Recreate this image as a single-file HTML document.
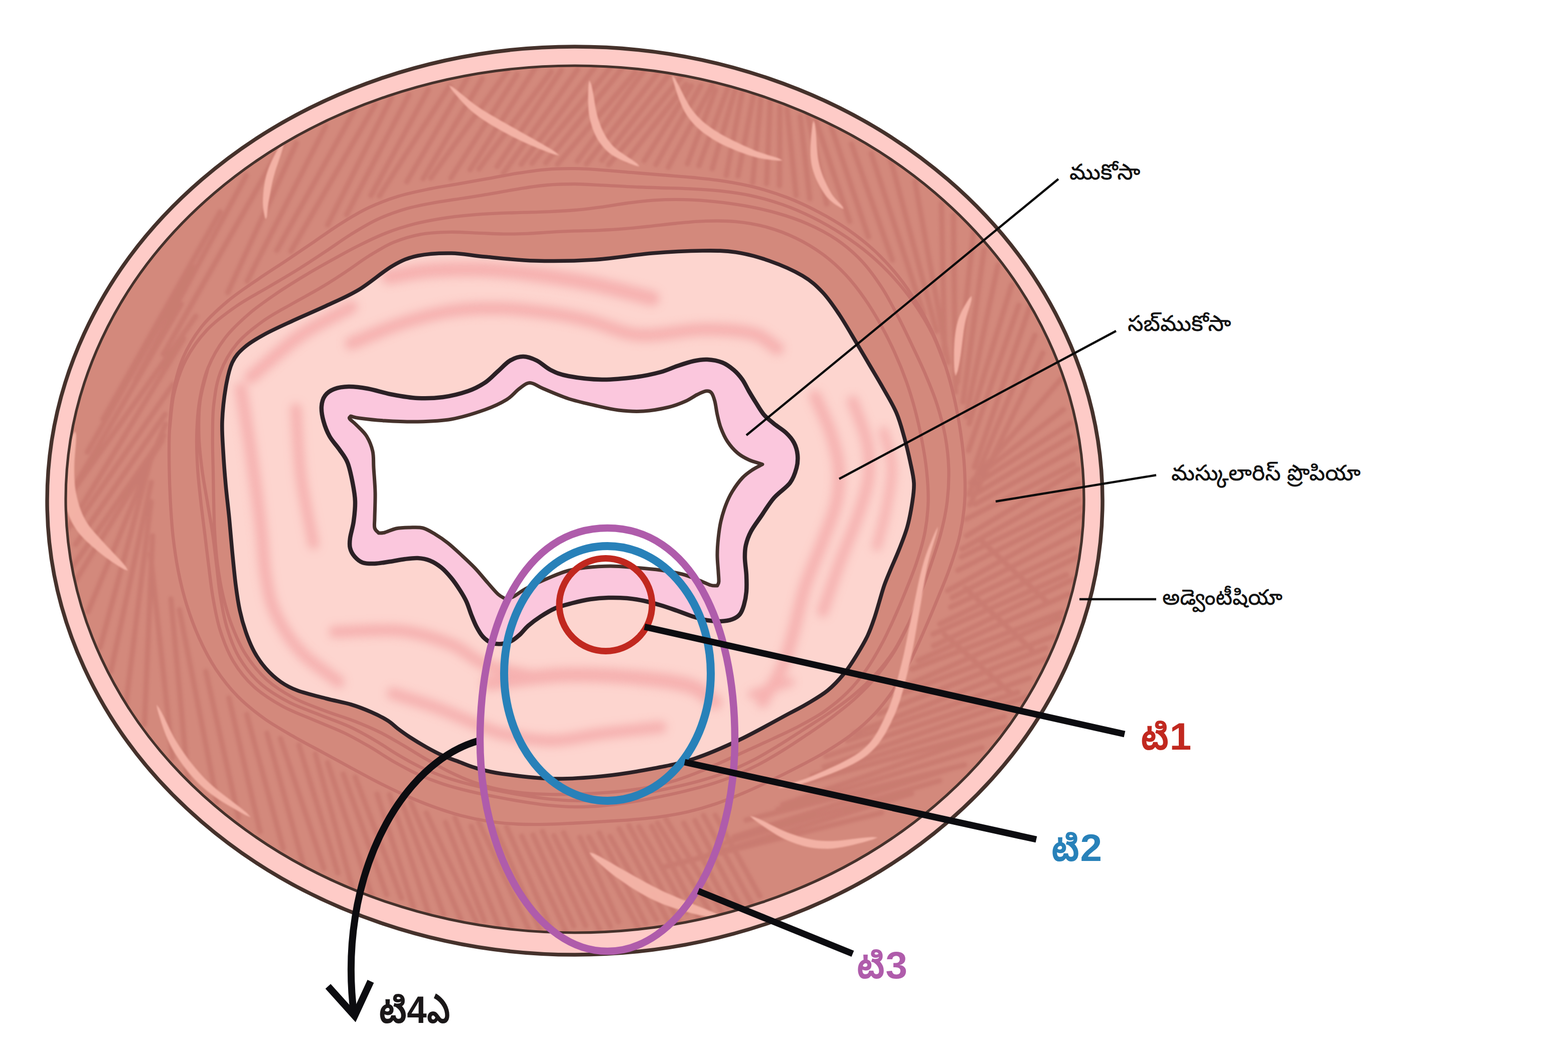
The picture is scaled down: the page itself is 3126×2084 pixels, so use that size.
<!DOCTYPE html>
<html lang="te"><head><meta charset="utf-8"><title>T stages</title>
<style>html,body{margin:0;padding:0;background:#fff}body{width:3126px;height:2084px;overflow:hidden}svg{display:block}</style></head>
<body>
<svg xmlns="http://www.w3.org/2000/svg" width="3126" height="2084" viewBox="0 0 3126 2084">
<defs>
<filter id="b1" x="-20%" y="-20%" width="140%" height="140%"><feGaussianBlur stdDeviation="9"/></filter>
<filter id="b2" x="-5%" y="-5%" width="110%" height="110%"><feGaussianBlur stdDeviation="2.5"/></filter>
<filter id="b3" x="-5%" y="-5%" width="110%" height="110%"><feGaussianBlur stdDeviation="1.5"/></filter>
<clipPath id="cmus"><ellipse cx="1146" cy="995.5" rx="1015" ry="864.5"/></clipPath>
<clipPath id="csub"><path d="M445 900C443.8 878.8 442.2 861.2 443 840C443.8 818.8 446.7 792.5 450 773C453.3 753.5 456.8 736.3 463 723C469.2 709.7 476.3 702.3 487 693C497.7 683.7 511 675.8 527 667C543 658.2 562.5 649.5 583 640C603.5 630.5 628 620.3 650 610C672 599.7 692.8 591.3 715 578C737.2 564.7 763.3 541.3 783 530C802.7 518.7 813.5 514.2 833 510C852.5 505.8 877.7 504.7 900 505C922.3 505.3 939.2 509.5 967 512C994.8 514.5 1030.8 519 1067 520C1103.2 521 1145.2 520.5 1184 518C1222.8 515.5 1264 508 1300 505C1336 502 1372.2 500.3 1400 500C1427.8 499.7 1444.8 499.7 1467 503C1489.2 506.3 1510.8 512.2 1533 520C1555.2 527.8 1582.2 539.5 1600 550C1617.8 560.5 1627.8 570.2 1640 583C1652.2 595.8 1661.8 610.3 1673 627C1684.2 643.7 1697 666.3 1707 683C1717 699.7 1724.2 712 1733 727C1741.8 742 1751 757 1760 773C1769 789 1779.8 806.3 1787 823C1794.2 839.7 1798.3 856.3 1803 873C1807.7 889.7 1811.8 908 1815 923C1818.2 938 1821.3 950.2 1822 963C1822.7 975.8 1821.2 985.5 1819 1000C1816.8 1014.5 1813.5 1033.8 1809 1050C1804.5 1066.2 1797.7 1082.5 1792 1097C1786.3 1111.5 1779.8 1125.3 1775 1137C1770.2 1148.7 1766.7 1156.5 1763 1167C1759.3 1177.5 1756.3 1189 1753 1200C1749.7 1211 1746.8 1221.8 1743 1233C1739.2 1244.2 1735.5 1255.3 1730 1267C1724.5 1278.7 1717.8 1290.3 1710 1303C1702.2 1315.7 1693 1330.7 1683 1343C1673 1355.3 1662.2 1367 1650 1377C1637.8 1387 1622.8 1395.3 1610 1403C1597.2 1410.7 1595.5 1411 1573 1423C1550.5 1435 1506.5 1460 1475 1475C1443.5 1490 1413.2 1503.3 1384 1513C1354.8 1522.7 1330.7 1527.2 1300 1533C1269.3 1538.8 1233.3 1544.7 1200 1548C1166.7 1551.3 1133.3 1553.8 1100 1553C1066.7 1552.2 1025 1546.5 1000 1543C975 1539.5 963.8 1535.8 950 1532C936.2 1528.2 928.2 1524.2 917 1520C905.8 1515.8 894.2 1512 883 1507C871.8 1502 861 1496.2 850 1490C839 1483.8 826.5 1476.2 817 1470C807.5 1463.8 800.3 1458.5 793 1453C785.7 1447.5 781.8 1442.5 773 1437C764.2 1431.5 752.2 1425.3 740 1420C727.8 1414.7 715 1409.5 700 1405C685 1400.5 667.8 1397.7 650 1393C632.2 1388.3 608 1382.5 593 1377C578 1371.5 570.5 1367.3 560 1360C549.5 1352.7 538.8 1343 530 1333C521.2 1323 513.7 1312.2 507 1300C500.3 1287.8 494.8 1273.8 490 1260C485.2 1246.2 481.3 1232.5 478 1217C474.7 1201.5 472.5 1186.5 470 1167C467.5 1147.5 465.2 1122.3 463 1100C460.8 1077.7 459.2 1055.2 457 1033C454.8 1010.8 452 989.2 450 967C448 944.8 446.2 921.2 445 900Z"/></clipPath>
</defs>
<rect width="3126" height="2084" fill="#fff"/>
<ellipse cx="1146" cy="998.5" rx="1052" ry="905.5" fill="#fecbc7" stroke="#45312b" stroke-width="7.5"/>
<ellipse cx="1146" cy="995.5" rx="1015" ry="864.5" fill="#d3897c"/>
<g clip-path="url(#cmus)">
<path d="M326.6 868.4L144.1 1131.3M329.3 826.1L150.7 1085.6M344.4 766.9L150.7 1047.9M366.1 675.2L136.5 1052.6M390.2 630.7L136.2 992.1M361.1 606.5L140.3 984.7M383.7 531.4L174.1 901.8M439 422.6L205.6 836.3M491 349.7L270.7 758.1M564.4 284.8L325.7 706.5M590.8 285.5L454.2 583.3M649.5 251L492.7 560.9M707.4 218.6L551.8 499.2M748 208.1L580 501.2M780.4 194.5L653 448.6M815.4 188.8L690.9 428.2M853.9 178.6L739.6 389.7M896.3 171.2L756.3 390.7M933.7 152.2L811 362.4M961.5 157L843.4 356.4M1013.1 139.4L858.7 355.3M1030.9 148.2L898.8 355.3M1069.7 131.2L937.1 338.3M1098.8 142.7L954.7 337M1119 140L990.9 332.1M1151.8 138.3L1003.1 346M1188.2 130.7L1039 327.8M1217.4 134L1060.5 325.7M1241.1 135.6L1088 325M1266.7 143.9L1111.3 327.9M1286.6 137.5L1150.8 321.5M1312.9 143.2L1169.2 327M1331.7 151.3L1199.9 319.7M1359 152.5L1213.5 328.6M1367.8 168L1250.2 319.1M1378.3 171.2L1284.1 320.6M1397.1 170.9L1307.5 328.5M1420.3 169.6L1332.1 333.7M1426.7 178.9L1370.2 326.9M1452.5 171.8L1393.3 330.6M1466 178L1419.9 336.5M1479.6 184.6L1447.9 349.8M1502.6 188L1471.3 351M1517.4 192.6L1500.4 364.8M1535.7 197.9L1528.2 366.2M1554.7 212.8L1554 370.3M1569.1 216.8L1587.1 389.6M1595.3 231.9L1614.5 396.2M1609.7 225.6L1648.2 406.6M1625.5 237.8L1693.9 441.3M1657 252.7L1731.4 472.4M1697.5 287.2L1779 518.5M1736.9 306.1L1841.3 625.9M1775.2 316.2L1867.1 660.9M1824 362L1890.1 723.1M1876.8 405.9L1883.4 706.3M1900.8 429.2L1904.9 781.8M1941.6 456.1L1908.3 763.3M1961.7 499.3L1919.6 801.9M1989.5 528.8L1925.2 831.8M2017 567.9L1932.1 845M2031.1 608.8L1930.7 898.7M2052.9 612.6L1942.4 931.9M2063.3 668.7L1931.3 986.2M2079 703.8L1933.4 1007M2114.9 756.2L1935.2 963.4M2120.2 816.7L1940.7 956.2M2134.1 844.3L1937.4 970.2M2135.6 870.9L1938 989.1M2147.1 893.2L1943.4 1005.6M2140.4 925.5L1926.2 1035.2M2148.9 936.3L1926.5 1068.5M2151.8 963.8L1917.7 1094.6M2149.9 996.7L1916.6 1110.6M2158.9 1011.2L1909.4 1137.6M2158.9 1027.7L1889.2 1177.9M2153.1 1060.7L1898.1 1191.5M2142 1094.5L1895.1 1210.8M2150 1109.7L1873.4 1244.5M2126.1 1146.4L1860.3 1264.5M2139.8 1154.9L1861.4 1288.1M2131 1184.4L1830.4 1317.4M2116.4 1220.9L1818.2 1334.5M2114.2 1232.2L1814.9 1363.6M2098.7 1269.3L1780.8 1389.3M2084.8 1292.4L1751.3 1423.3M2088.2 1312.6L1702.6 1462.5M2052.7 1352.3L1689 1477.6M2029.3 1380.6L1646 1508.4M2048.6 1389.4L1643.2 1529.2M2002.4 1428.9L1619.4 1546.9M2009.6 1448.9L1604.6 1560.1M1989.1 1457.1L1560.1 1605M1958 1491.2L1550.4 1614.5M1923.1 1525.4L1487.4 1635.7M1896.9 1532.2L1463.3 1669M1873.1 1556.7L1444.7 1681.5M1817.3 1582.4L1388.7 1712.3M1757.6 1620.6L1320.8 1729.7M1426 1625.7L1514.9 1787.1M1402.5 1626.2L1500.4 1805.6M1385.5 1636.6L1477.4 1810.4M1363.2 1641.2L1452 1808.5M1327.3 1632.7L1440.5 1821M1310.8 1641.3L1413.4 1814.7M1298.8 1647.8L1393.6 1831.1M1273.6 1648.4L1369.1 1819.3M1253.8 1646.5L1355.1 1841.3M1234 1652.6L1331.4 1835.3M1216 1668L1309.3 1834.2M1194.4 1660.9L1287.4 1842.2M1174 1669.3L1274.3 1852.7M1156.2 1669.9L1233.2 1838.2M1123.5 1660.6L1216.8 1847.5M1104.3 1666.5L1195.4 1853.8M1081.3 1658.2L1167.9 1846.6M1062.5 1665.2L1143.9 1846.9M1040 1667.2L1129.1 1859M1009.7 1648.8L1098.9 1853.3M988.3 1653.6L1078.3 1858.2M954.1 1638.8L1055 1854.7M939.3 1647.6L1021 1851.4M907.2 1631.1L995.7 1849.5M888.1 1639.8L965.6 1836.1M849.9 1620.9L950.2 1839.1M818.7 1599.1L918.7 1833.4M799.9 1597L884.8 1824.4M776.6 1584.8L854.5 1820.6M751.7 1583.7L824.3 1808.8M708.1 1549.8L800.5 1791.3M684.4 1544L770.9 1784.2M653 1520.7L742.9 1792.1M628.7 1503.8L703.4 1773.1M595.9 1485.6L673.7 1741M559.1 1472.6L645.6 1731.7M532.2 1462.1L605.6 1727.2M491.9 1425L564.5 1692.1M456.3 1391.9L518.4 1658.4M410.3 1339.2L475.6 1630.1M357.6 1216L432.8 1599.1M340.6 1194.4L375.4 1563.3M299.8 1104.5L344 1511.3M304.2 1068.4L288 1444.8M301.1 1000.8L251 1404.9M301.5 961.9L221.1 1338.7M300.9 914.5L199.6 1291.3M329.9 845.9L175.5 1220M323.4 878L151.2 1157.1M1955.5 1077.3L2087.2 1200M1924.6 1173.2L2056.8 1295.3M1882.7 1265.4L2017.7 1384.4" fill="none" stroke="#c4736b" stroke-width="10.5" stroke-linecap="round" opacity="0.6" filter="url(#b2)"/>
<path d="M426 1000C425.5 979 425.2 958.1 424.9 936.9C424.5 915.7 423.6 894.3 423.8 872.7C424.1 851 423.5 828.7 426.1 807.1C428.7 785.5 431.6 763 439.3 742.8C446.9 722.6 458 702.8 472.1 685.8C486.2 668.8 505.4 654.1 523.8 640.8C542.2 627.4 563.6 616.7 582.7 605.6C601.9 594.5 621 584.8 638.6 574.3C656.3 563.8 672.5 553.3 688.6 542.6C704.8 532 719.4 520.4 735.3 510.6C751.3 500.7 767.1 490.6 784.3 483.4C801.5 476.2 819.9 470.8 838.5 467.3C857 463.9 876.7 463.2 895.5 462.8C914.3 462.3 933.2 463.9 951.1 464.6C969.1 465.2 986.3 466.4 1003.1 466.6C1019.9 466.8 1035.8 466.4 1051.8 465.8C1067.8 465.1 1083.3 463.7 1099 462.9C1114.7 462 1130.3 461.3 1146 460.7C1161.7 460.1 1177.3 460 1193.3 459.3C1209.3 458.5 1225.2 457.7 1241.8 456.4C1258.5 455.2 1275.3 453.4 1293 451.5C1310.6 449.7 1328.9 447.3 1347.8 445.5C1366.8 443.7 1386.7 441.4 1406.7 440.9C1426.8 440.3 1447.7 440 1468.1 442.1C1488.5 444.1 1509.2 447.6 1529 453.1C1548.7 458.5 1568.2 465.9 1586.7 474.8C1605.1 483.7 1623.1 494.4 1639.5 506.5C1656 518.6 1671.4 532.5 1685.4 547.4C1699.5 562.2 1712 578.7 1723.7 595.5C1735.5 612.2 1746 630 1756 647.8C1765.9 665.7 1775.1 684.1 1783.5 702.7C1792 721.3 1799.7 740.3 1806.5 759.6C1813.4 778.8 1819.3 798.5 1824.5 818.2C1829.7 837.9 1834.1 857.9 1837.9 878C1841.7 898.1 1845.2 918.3 1847.3 938.6C1849.4 959 1851 979.6 1850.5 1000C1849.9 1020.4 1847.8 1041 1844 1061.1C1840.2 1081.1 1834.1 1100.9 1827.8 1120.2C1821.5 1139.5 1813.7 1158.3 1806.3 1176.9C1798.8 1195.5 1791.2 1213.8 1783 1231.9C1774.9 1249.9 1766.8 1267.9 1757.5 1285.1C1748.2 1302.4 1738.4 1319.6 1727.1 1335.5C1715.8 1351.4 1703.4 1366.9 1689.6 1380.6C1675.8 1394.4 1660.2 1406.9 1644.3 1418.1C1628.3 1429.3 1610.7 1438.7 1593.7 1447.7C1576.8 1456.8 1559.3 1464.6 1542.4 1472.5C1525.6 1480.4 1509 1487.7 1492.7 1495.2C1476.4 1502.7 1460.6 1510.1 1444.6 1517.3C1428.7 1524.4 1413 1531.7 1397 1538.2C1380.9 1544.6 1364.7 1550.8 1348.3 1555.9C1331.9 1561 1315.2 1565.3 1298.4 1568.8C1281.6 1572.3 1264.6 1574.8 1247.7 1576.8C1230.8 1578.9 1213.8 1580.2 1196.9 1581.3C1179.9 1582.5 1163 1583.2 1146 1583.7C1129 1584.2 1112 1584.6 1094.9 1584.2C1077.8 1583.9 1060.6 1583.2 1043.5 1581.5C1026.4 1579.7 1009.1 1577.4 992.3 1573.7C975.4 1570 958.7 1565.2 942.4 1559.3C926.2 1553.5 910.3 1546.2 894.8 1538.6C879.3 1531 864.4 1522.4 849.4 1513.8C834.4 1505.2 820 1495.8 805 1487C789.9 1478.2 775.3 1469.2 759.1 1461.1C742.8 1453 726 1445.8 707.5 1438.5C689 1431.3 668.5 1425.4 648.2 1417.7C628 1409.9 605.6 1402.5 586.1 1392C566.6 1381.6 547.1 1369.4 531.1 1355C515.2 1340.6 501.7 1323.5 490.2 1305.8C478.8 1288.1 470.3 1268.3 462.7 1248.7C455.1 1229.1 449.5 1208.4 444.6 1187.9C439.8 1167.4 436.4 1146.5 433.6 1125.6C430.9 1104.8 429.3 1083.7 428.1 1062.8C426.8 1041.9 426.6 1021 426 1000ZM400.3 1000C397.9 978.3 395.3 956.4 394 934.2C392.6 912.1 391.6 889.5 392.2 867.1C392.8 844.6 394 821.7 397.8 799.5C401.5 777.3 406.3 754.6 414.7 733.8C423.1 713 434.5 692.7 448.2 674.6C461.9 656.5 479.6 640.3 497 625.3C514.4 610.3 533.9 597.2 552.5 584.4C571.1 571.7 590 560.2 608.5 549C627 537.8 645.4 527.5 663.5 517.5C681.6 507.4 699.2 497.7 717.1 488.8C734.9 479.9 752.6 471.3 770.9 464.2C789.1 457.2 807.8 451.3 826.4 446.5C845.1 441.7 864.1 438.3 882.7 435.3C901.3 432.4 919.9 430.5 938.1 428.9C956.3 427.2 974.3 426.2 992 425.4C1009.7 424.5 1027.2 424.3 1044.4 423.7C1061.6 423.2 1078.5 422.8 1095.4 422.1C1112.4 421.3 1129 420.5 1146 419C1163 417.6 1179.9 415.4 1197.3 413.1C1214.8 410.8 1232.6 407.3 1250.9 405C1269.2 402.7 1288 400.2 1307 399.1C1326 397.9 1345.4 397.6 1365.1 398.1C1384.7 398.6 1404.6 400 1424.8 402.1C1445 404.2 1465.6 406.9 1486.3 410.7C1506.9 414.5 1528 418.9 1548.7 424.9C1569.4 430.8 1590.5 437.8 1610.4 446.6C1630.3 455.4 1650.2 465.6 1668.1 477.9C1686 490.2 1702.8 504.6 1717.7 520.3C1732.5 536 1745.2 554 1757.1 572.1C1769 590.2 1778.9 609.6 1789 628.8C1799.1 647.9 1808.3 667.4 1817.5 686.9C1826.8 706.3 1836.2 725.8 1844.6 745.7C1853.1 765.7 1861.5 785.8 1868.1 806.5C1874.7 827.2 1880.5 848.4 1884.4 869.8C1888.3 891.2 1890.7 913.1 1891.4 934.8C1892 956.5 1891 978.5 1888.4 1000C1885.8 1021.5 1881 1043 1875.6 1063.8C1870.3 1084.7 1863 1105.1 1856.2 1125.2C1849.4 1145.3 1842.2 1165.1 1834.9 1184.6C1827.5 1204.1 1820.5 1223.6 1812 1242.4C1803.5 1261.2 1794.6 1279.9 1784 1297.5C1773.3 1315 1761.3 1332 1748.3 1347.8C1735.3 1363.5 1720.8 1378.2 1705.8 1392C1690.9 1405.7 1674.6 1418.2 1658.7 1430.2C1642.8 1442.2 1626.3 1453.3 1610.2 1464.2C1594.1 1475.1 1578.2 1485.8 1562 1495.8C1545.8 1505.8 1529.7 1515.6 1513.1 1524.3C1496.5 1533 1479.5 1540.9 1462.3 1547.9C1445.1 1554.9 1427.5 1560.8 1410 1566.1C1392.4 1571.4 1374.6 1575.6 1357 1579.8C1339.4 1584 1321.9 1587.6 1304.4 1591C1286.8 1594.5 1269.4 1597.8 1251.9 1600.5C1234.3 1603.2 1216.8 1605.7 1199.1 1607.1C1181.5 1608.5 1163.7 1609.3 1146 1609.1C1128.3 1608.8 1110.6 1607.5 1093 1605.8C1075.4 1604 1058 1601.2 1040.5 1598.4C1023 1595.6 1005.6 1592.4 988.2 1589C970.7 1585.6 953.1 1582.2 935.7 1577.9C918.2 1573.6 900.5 1569.1 883.3 1563.4C866 1557.7 848.8 1551.2 832.1 1543.7C815.5 1536.1 799.4 1527 783.4 1517.9C767.4 1508.7 752.4 1498.1 736 1488.6C719.6 1479.1 703.3 1469.7 685 1461C666.7 1452.2 646.6 1444.9 626.2 1436.2C605.8 1427.4 582.9 1419.4 562.9 1408.3C542.9 1397.2 522.5 1384.5 506.1 1369.4C489.7 1354.4 475.7 1336.5 464.5 1317.8C453.4 1299.1 445.6 1278.1 439 1257.3C432.4 1236.6 428.6 1214.7 424.8 1193.2C421 1171.8 418.8 1150.2 416.1 1128.7C413.3 1107.3 410.9 1086 408.3 1064.5C405.6 1043.1 402.7 1021.7 400.3 1000ZM339.7 1000C338.4 976.5 337.6 953 337.3 929.3C337 905.5 336.6 881.5 337.9 857.5C339.1 833.5 340.5 809 344.8 785.3C349.2 761.7 354.8 737.5 364.1 715.4C373.5 693.3 386.1 671.8 401.1 652.6C416 633.5 435.2 616.4 454 600.5C472.8 584.6 494.1 571 513.8 557.3C533.5 543.7 553.4 531.3 572.3 518.6C591.2 505.9 609.2 493.5 627.3 481.3C645.3 469 662.4 456.4 680.5 445.2C698.5 433.9 716.6 422.8 735.6 413.9C754.6 404.9 774.6 397.5 794.6 391.3C814.6 385.2 835.3 381.1 855.5 376.9C875.6 372.8 895.7 369.9 915.4 366.4C935.1 363 954.3 359.6 973.5 356.1C992.7 352.7 1011.5 348.7 1030.6 345.7C1049.7 342.7 1068.9 339.7 1088.1 338.1C1107.3 336.5 1126.7 336 1146 336.2C1165.3 336.3 1184.5 337.9 1203.8 339.3C1223.1 340.6 1242.2 342.6 1261.6 344.2C1281.1 345.8 1300.5 347.4 1320.4 349C1340.3 350.7 1360.6 352 1381.1 354C1401.7 356.1 1422.8 358 1443.8 361.4C1464.8 364.7 1486.3 368.6 1507.4 374.1C1528.4 379.6 1549.5 386.3 1570.1 394.3C1590.7 402.3 1611 411.8 1630.8 422.2C1650.7 432.6 1670.5 444 1689.1 456.9C1707.7 469.8 1726 483.9 1742.7 499.3C1759.4 514.7 1775.1 531.7 1789.4 549.5C1803.8 567.2 1816.9 586.2 1828.8 605.8C1840.7 625.3 1851.3 645.8 1860.8 666.7C1870.2 687.6 1878.2 709.2 1885.3 730.9C1892.3 752.7 1898.1 774.9 1903.1 797.1C1908.1 819.4 1912.1 841.9 1915.4 864.3C1918.6 886.8 1921.4 909.4 1922.7 932C1924 954.7 1924.8 977.5 1923.2 1000C1921.7 1022.5 1918.5 1045.2 1913.6 1067.2C1908.7 1089.1 1901.2 1110.8 1893.8 1131.9C1886.5 1153 1877.6 1173.4 1869.3 1193.8C1861 1214.2 1852.7 1234.2 1844 1254C1835.3 1273.9 1826.9 1293.8 1817.2 1313C1807.5 1332.2 1797.4 1351.4 1785.6 1369.3C1773.9 1387.2 1760.9 1404.7 1746.5 1420.5C1732 1436.2 1715.8 1450.8 1698.9 1464C1682.1 1477.2 1663.7 1488.6 1645.6 1499.6C1627.5 1510.6 1608.8 1520.2 1590.5 1529.8C1572.3 1539.3 1554.1 1548.3 1535.9 1556.9C1517.8 1565.6 1500 1574 1481.8 1581.7C1463.7 1589.3 1445.6 1596.8 1427.2 1603C1408.8 1609.2 1390.1 1614.6 1371.3 1619C1352.5 1623.3 1333.5 1626.5 1314.6 1629.1C1295.7 1631.7 1276.7 1633.3 1257.9 1634.8C1239.1 1636.4 1220.5 1637.3 1201.9 1638.4C1183.2 1639.5 1164.7 1640.6 1146 1641.5C1127.3 1642.4 1108.6 1643.6 1089.7 1643.9C1070.8 1644.2 1051.6 1644.4 1032.5 1643.5C1013.4 1642.5 994.1 1640.9 975 1638C956 1635.1 936.9 1631.1 918.1 1626.2C899.3 1621.2 880.7 1615 862.3 1608.3C843.9 1601.6 825.8 1594 807.7 1586C789.6 1577.9 771.8 1569.2 753.8 1560.1C735.9 1551 718.3 1541.2 700.1 1531.4C681.9 1521.6 663.7 1511.5 644.8 1501.2C625.9 1490.9 606.1 1480.8 586.5 1469.5C566.9 1458.2 546.1 1446.8 527.2 1433.3C508.4 1419.7 489.6 1404.9 473.4 1388.3C457.2 1371.7 442.8 1353.1 430 1333.9C417.3 1314.6 406.6 1293.7 397.1 1272.6C387.5 1251.5 379.5 1229.5 372.5 1207.3C365.6 1185.1 360 1162.3 355.5 1139.4C350.9 1116.5 347.7 1093.3 345 1070.1C342.4 1046.8 341 1023.5 339.7 1000ZM337.9 857.5C340.8 833.6 341.3 809.1 346.7 785.8C352.1 762.5 359.3 739 370.3 717.7C381.3 696.4 395.8 675.9 412.6 658C429.5 640.2 450.9 624.7 471.3 610.5C491.8 596.2 514.8 584.6 535.3 572.4C555.8 560.2 575.6 548.8 594.4 537.1C613.2 525.4 630.7 513.7 648.1 502.1C665.6 490.6 681.9 478.4 699.3 467.6C716.6 456.9 733.9 446.1 752.2 437.6C770.5 429.1 789.8 422.2 809.1 416.5C828.4 410.9 848.6 407.5 868 403.9C887.5 400.3 906.9 398 925.8 395C944.7 392 963.1 389.1 981.5 385.9C999.8 382.8 1017.8 379.1 1036 376.3C1054.2 373.5 1072.5 370.5 1090.8 369C1109.1 367.4 1127.6 367 1146 367C1164.4 367.1 1182.7 368.5 1201.2 369.4C1219.6 370.3 1237.9 371.6 1256.7 372.4C1275.4 373.3 1294.2 373.9 1313.6 374.5C1333 375.2 1352.7 375.4 1373 376.4C1393.2 377.4 1414 378.3 1434.8 380.6C1455.7 382.9 1477.1 385.7 1498 390.3C1519 394.9 1540 400.8 1560.5 408.1C1581 415.3 1601.2 424.2 1620.9 434C1640.6 443.9 1660.1 455 1678.8 467.2C1697.6 479.4 1716.1 492.6 1733.3 507.2C1750.6 521.7 1767 537.7 1782.3 554.5C1797.5 571.3 1811.8 589.4 1824.7 608.2C1837.6 627 1849.4 646.8 1859.5 667.3C1869.6 687.8 1876.7 709.7 1885.3 730.9M1812 1242.4C1802.3 1260.6 1794 1279.7 1782.8 1297C1771.6 1314.2 1758.6 1330.6 1744.8 1345.7C1730.9 1360.8 1715.4 1374.8 1699.8 1387.7C1684.1 1400.7 1667.1 1412.2 1650.7 1423.5C1634.3 1434.7 1617.5 1444.9 1601.3 1455.3C1585.1 1465.7 1569.6 1476.1 1553.6 1485.8C1537.7 1495.5 1522 1505.2 1505.7 1513.7C1489.4 1522.2 1472.8 1530 1455.9 1536.8C1439.1 1543.6 1421.8 1549.4 1404.6 1554.5C1387.4 1559.7 1370 1563.9 1352.7 1567.9C1335.5 1572 1318.3 1575.5 1301.1 1578.9C1283.9 1582.2 1266.9 1585.6 1249.7 1588.2C1232.5 1590.9 1215.3 1593.3 1198 1594.8C1180.7 1596.2 1163.3 1597 1146 1596.7C1128.7 1596.5 1111.3 1595.2 1094.1 1593.4C1076.9 1591.6 1059.8 1588.8 1042.7 1585.9C1025.6 1583.1 1008.6 1579.9 991.5 1576.4C974.5 1572.9 957.4 1569.4 940.3 1565.1C923.3 1560.8 906.1 1556.1 889.4 1550.4C872.6 1544.6 855.8 1538.1 839.7 1530.5C823.6 1522.9 808.1 1513.9 792.6 1504.7C777.1 1495.6 762.7 1485.1 746.7 1475.9C730.7 1466.6 714.9 1457.5 696.8 1449.2C678.7 1440.9 658.6 1434.2 638.3 1426C618.1 1417.7 595 1410.4 575 1399.8C555 1389.2 534.5 1377.1 518.2 1362.4C501.9 1347.8 488.1 1330.2 477.2 1311.9C466.2 1293.5 458.9 1272.8 452.6 1252.4C446.3 1232 442.9 1210.4 439.4 1189.3C435.9 1168.3 434.2 1147 431.6 1126C429 1104.9 426.9 1084.2 423.8 1063.2C420.7 1042.2 416.7 1021.4 413.2 1000C409.6 978.6 405.4 957 402.6 935C399.8 912.9 397.1 890.4 396.5 867.8C395.9 845.3 395.9 822.2 398.9 799.8C401.9 777.5 409.4 755.8 414.7 733.8" fill="none" stroke="#c5746d" stroke-width="6.3" stroke-linejoin="round"/>
<path d="M567 278L561.9 283.8L557.9 290.1L554.1 296.7L550.5 303.3L547 309.9L543.7 316.6L540.5 323.3L537.7 329.9L535.1 336.4L532.9 342.8L531 349.1L529.5 355.3L528.1 361.4L527.1 367.4L526.2 373.2L525.5 378.9L525 384.3L524.6 389.6L524.3 394.6L524.1 399.4L524 404L524.2 408.3L524.4 412.4L524.8 416.2L525.3 419.8L525.9 423.2L526.6 426.6L527.4 430L528.2 433.4L530 437L530 437L531.7 433.3L532.3 429.8L532.8 426.3L533.1 422.9L533.4 419.5L533.7 416L534.1 412.5L534.6 408.8L535.1 404.8L535.9 400.6L536.7 396L537.6 391.1L538.5 386.1L539.4 380.9L540.4 375.5L541.5 370.1L542.7 364.5L544 358.8L545.5 353L547.1 347.2L548.9 341.1L550.9 334.8L553.2 328.3L555.5 321.5L557.9 314.6L560.3 307.5L562.6 300.3L564.7 293L566.6 285.7L567 278ZM895 170L898.9 176.6L903.4 182.4L908 188L912.7 193.6L917.6 199.1L922.6 204.6L927.9 210L933.4 215.4L939.3 220.7L945.6 226L952.2 231L959.1 236L966.2 240.8L973.5 245.5L981 250.1L988.7 254.6L996.6 259.1L1004.6 263.5L1012.8 267.8L1021.1 272.2L1029.7 276.5L1038.5 280.8L1047.6 285L1056.9 289.1L1066.3 293.1L1075.8 297L1085.4 300.8L1095.1 304.5L1104.8 307.9L1115 310L1115 310L1107.1 303.1L1098.5 297.5L1089.6 292.2L1080.7 287L1071.8 281.9L1062.9 276.9L1054.2 272L1045.5 267.2L1037.1 262.5L1028.9 257.8L1020.8 253.2L1012.8 248.7L1004.9 244.2L997.2 239.9L989.6 235.5L982.2 231.3L974.9 227L967.8 222.7L961 218.4L954.4 214L948.1 209.7L942 205.2L936.2 200.7L930.5 196.1L924.9 191.5L919.3 186.9L913.7 182.3L907.9 177.7L901.9 173.4L895 170ZM1175 160L1173.3 168.4L1172.8 176.7L1172.6 185.2L1172.5 193.7L1172.5 202.1L1172.8 210.5L1173.3 218.8L1174.2 226.9L1175.5 234.8L1177.2 242.2L1179.2 249.2L1181.3 255.8L1183.8 262.2L1186.4 268.3L1189.4 274.2L1192.7 279.9L1196.3 285.3L1200.3 290.6L1204.6 295.6L1209.5 300.5L1214.9 305.2L1220.8 309.4L1227.1 313.2L1233.6 316.6L1240.3 319.8L1247.1 322.7L1254 325.4L1260.8 328L1267.7 330.5L1275 332L1275 332L1270.1 326.3L1264.2 321.7L1258.1 317.5L1252 313.5L1245.9 309.5L1240.1 305.6L1234.5 301.7L1229.3 297.7L1224.7 293.7L1220.5 289.5L1216.8 285.1L1213.3 280.5L1210 275.9L1207.1 271.1L1204.4 266.2L1201.8 261.1L1199.4 255.7L1197.1 250L1194.9 244L1192.8 237.8L1190.9 231.3L1189.2 224.3L1187.7 216.9L1186.3 209.1L1185 201L1183.6 192.7L1182.2 184.4L1180.5 176.1L1178.5 167.8L1175 160ZM1340 150L1341.4 158.5L1343.7 166.7L1346.2 175L1348.8 183.3L1351.6 191.5L1354.5 199.6L1357.7 207.5L1361.1 215.1L1364.8 222.4L1369 229.2L1373.3 235.4L1377.7 241.2L1382.3 246.5L1387.1 251.5L1392.1 256.2L1397.3 260.7L1402.7 264.9L1408.3 269.1L1414.2 273.1L1420.5 277.2L1427.3 281.3L1434.6 285.4L1442.4 289.3L1450.4 293L1458.6 296.6L1466.8 300L1474.9 303.2L1482.9 306.1L1490.5 308.7L1497.8 311.1L1504.7 313.1L1511.3 314.8L1517.8 316.1L1524 317.2L1530 318.1L1535.9 318.8L1541.8 319.5L1547.7 320L1553.6 320.4L1560 320L1560 320L1554.5 316.8L1548.8 314.6L1543.2 312.8L1537.5 311.1L1531.9 309.4L1526.2 307.6L1520.5 305.8L1514.6 303.8L1508.5 301.5L1502.2 298.9L1495.5 296L1488.2 292.8L1480.7 289.4L1473 285.8L1465.2 282.1L1457.4 278.3L1449.9 274.5L1442.6 270.6L1435.8 266.7L1429.5 262.8L1423.6 259L1418 255.2L1412.7 251.4L1407.7 247.7L1402.9 243.8L1398.3 239.8L1393.9 235.5L1389.6 231L1385.3 226.1L1381 220.8L1376.9 215L1373 208.7L1369.1 201.9L1365.3 194.7L1361.5 187.3L1357.7 179.6L1353.8 171.9L1349.8 164.2L1345.5 156.7L1340 150ZM1622 240L1619.7 248.6L1618.6 257.4L1617.6 266.3L1616.8 275.2L1616.2 284.1L1615.8 292.9L1615.7 301.7L1615.9 310.2L1616.6 318.5L1617.7 326.4L1619.3 333.9L1621.3 341.2L1623.6 348.2L1626.2 354.9L1629.1 361.2L1632.1 367.3L1635.2 373L1638.5 378.4L1641.7 383.5L1644.9 388.2L1648.3 392.7L1651.9 396.6L1655.5 400.1L1659.2 403.1L1662.8 405.9L1666.5 408.4L1670.2 410.7L1673.8 413L1677.6 415.2L1682 417L1682 417L1680 412.6L1677.1 409.1L1674.2 405.8L1671.2 402.7L1668.3 399.6L1665.4 396.5L1662.7 393.2L1660 389.8L1657.5 386L1655.1 381.8L1652.5 377L1649.9 372L1647.4 366.7L1644.8 361.1L1642.3 355.4L1639.9 349.4L1637.7 343.2L1635.7 336.9L1633.8 330.3L1632.3 323.6L1631 316.6L1630 309L1629.3 301L1628.6 292.7L1628 284L1627.5 275.2L1626.8 266.3L1625.9 257.4L1624.7 248.6L1622 240ZM1937 590L1932.4 594.9L1929.1 599.9L1926 604.9L1923 610L1920 615.3L1917.1 620.8L1914.4 626.9L1911.8 633.4L1909.5 640.6L1907.4 648.5L1905.7 657.1L1904.3 666.4L1903.2 676.2L1902.5 686.4L1902 696.9L1901.8 707.6L1901.8 718.3L1902.1 729L1902.7 739.5L1905 750L1905 750L1909.2 740.1L1911.5 729.7L1913.4 719.2L1915.1 708.6L1916.5 698.1L1917.8 687.8L1919 677.9L1920.2 668.5L1921.3 659.6L1922.6 651.5L1923.9 644.2L1925.4 637.5L1927 631.3L1928.7 625.4L1930.5 619.7L1932.3 614.2L1934.1 608.5L1935.7 602.8L1937 596.7L1937 590ZM1870 1050L1866.3 1057L1863.1 1064L1860.1 1070.9L1857.2 1077.9L1854.3 1084.9L1851.4 1092.1L1848.6 1099.5L1845.8 1107.2L1843.2 1115.3L1840.6 1123.9L1838.1 1132.9L1835.7 1142.3L1833.4 1152.1L1831.1 1162.1L1828.9 1172.4L1826.8 1182.7L1824.7 1193.1L1822.5 1203.4L1820.4 1213.6L1818.3 1223.7L1816.2 1233.7L1814.2 1243.7L1812.2 1253.7L1810.2 1263.7L1808.3 1273.6L1806.3 1283.6L1804.2 1293.5L1802.1 1303.4L1799.8 1313.2L1797.4 1323.1L1794.8 1333.2L1792.2 1343.5L1789.6 1353.8L1786.9 1364.2L1784.2 1374.4L1781.3 1384.5L1778.2 1394.4L1775 1403.9L1771.5 1413L1767.8 1421.8L1764 1430.3L1760.1 1438.6L1756.2 1446.6L1752.2 1454.3L1748 1461.7L1743.5 1468.8L1738.5 1475.6L1733.2 1482.2L1727.2 1488.5L1720.6 1494.6L1713 1500.5L1704.3 1506.4L1694.8 1512.1L1684.6 1517.6L1674.1 1522.9L1663.3 1528L1652.6 1532.8L1642.3 1537.4L1632.4 1541.8L1623.3 1545.8L1615 1549.3L1607.1 1552.4L1599.6 1555.1L1592.3 1557.6L1585.2 1559.8L1578.1 1561.9L1571.2 1564L1564.1 1566.2L1557.1 1568.7L1550 1572L1550 1572L1557.7 1571.2L1565.1 1569.9L1572.3 1568.5L1579.5 1567.2L1586.7 1565.7L1594.1 1564.1L1601.7 1562.2L1609.7 1560L1618 1557.3L1626.7 1554.2L1636 1550.7L1646.1 1547L1656.8 1542.9L1667.9 1538.5L1679.1 1533.7L1690.2 1528.7L1701 1523.4L1711.3 1517.7L1720.8 1511.7L1729.4 1505.4L1737 1498.8L1743.9 1491.8L1750.1 1484.7L1755.7 1477.2L1760.8 1469.6L1765.5 1461.7L1769.9 1453.6L1774.1 1445.4L1778.1 1436.9L1782.2 1428.2L1786.2 1419L1789.9 1409.3L1793.4 1399.3L1796.6 1389.1L1799.6 1378.7L1802.4 1368.2L1805.1 1357.8L1807.7 1347.3L1810.2 1337L1812.6 1326.9L1815 1316.8L1817.2 1306.6L1819.3 1296.5L1821.2 1286.4L1823 1276.4L1824.7 1266.3L1826.5 1256.3L1828.2 1246.3L1829.9 1236.3L1831.7 1226.3L1833.5 1216.1L1835.3 1205.8L1837 1195.4L1838.7 1184.9L1840.4 1174.5L1842.2 1164.3L1843.9 1154.2L1845.7 1144.5L1847.5 1135.1L1849.4 1126.1L1851.4 1117.7L1853.5 1109.6L1855.7 1101.8L1857.9 1094.3L1860.1 1087L1862.3 1079.7L1864.6 1072.5L1866.7 1065.2L1868.7 1057.8L1870 1050ZM150 860L145.8 866.5L143.1 873.3L140.6 880.2L138.2 887.2L136 894.3L134 901.3L132.1 908.3L130.4 915.4L129 922.3L127.9 929.2L127 935.8L126.3 942.2L125.8 948.6L125.4 955L125.2 961.2L125.2 967.5L125.5 973.7L125.9 979.9L126.6 986.2L127.5 992.4L128.7 998.5L130 1004.6L131.6 1010.7L133.4 1016.8L135.4 1022.8L137.6 1028.7L140.1 1034.6L142.8 1040.4L145.8 1046L149.1 1051.6L152.7 1056.9L156.5 1062.1L160.5 1066.9L164.8 1071.6L169.1 1076L173.6 1080.4L178.3 1084.6L183 1088.9L187.9 1093.1L192.9 1097.4L198.2 1101.8L203.8 1106.3L209.6 1110.7L215.6 1115.1L221.8 1119.4L228.1 1123.6L234.4 1127.8L240.9 1131.8L247.4 1135.5L255 1138L255 1138L251.4 1130.9L246.7 1124.9L241.6 1119.2L236.5 1113.7L231.3 1108.2L226.2 1102.9L221.2 1097.6L216.3 1092.5L211.6 1087.5L207.1 1082.6L202.7 1077.8L198.4 1073.1L194.3 1068.5L190.3 1064.1L186.5 1059.8L182.9 1055.6L179.6 1051.4L176.4 1047.1L173.6 1042.8L170.9 1038.4L168.4 1033.8L166 1029.1L163.8 1024.2L161.8 1019.2L159.9 1014.1L158.1 1008.9L156.5 1003.7L155 998.3L153.7 993L152.5 987.6L151.4 982.3L150.5 977L149.8 971.6L149.2 966.2L148.8 960.6L148.5 955L148.2 949.2L148.1 943.2L148.1 937.1L148.1 930.8L148.3 924.5L148.6 917.9L149.1 911.1L149.6 904.1L150.2 897L150.8 889.7L151.4 882.4L151.7 875L151.7 867.6L150 860ZM312 1405L313.7 1414.4L316.2 1423.4L319 1432.3L321.8 1441.2L324.8 1450.1L327.9 1459L331.3 1467.8L335.1 1476.6L339.2 1485.2L343.8 1493.7L348.7 1502L353.8 1510.1L359.1 1518L364.6 1525.9L370.5 1533.7L376.6 1541.3L383.1 1548.8L390 1556.2L397.2 1563.5L404.8 1570.6L413 1577.6L421.7 1584.2L430.8 1590.7L440.2 1596.9L449.9 1602.9L459.7 1608.8L469.6 1614.5L479.5 1620.1L489.5 1625.6L500 1630L500 1630L492.3 1621.5L483.5 1614.2L474.5 1607.1L465.5 1600.2L456.4 1593.3L447.5 1586.5L438.8 1579.8L430.5 1573L422.6 1566.3L415.2 1559.4L408.2 1552.4L401.5 1545.4L395.1 1538.3L388.9 1531.1L383 1523.8L377.3 1516.5L371.8 1509.1L366.5 1501.5L361.2 1493.9L356.2 1486.3L351.4 1478.6L346.9 1470.7L342.6 1462.6L338.5 1454.4L334.5 1446.1L330.5 1437.7L326.5 1429.3L322.3 1420.9L317.7 1412.7L312 1405ZM1175 1700L1179.7 1707L1185.3 1712.7L1191.1 1718.2L1197 1723.5L1203 1728.8L1209 1733.9L1215.2 1739L1221.5 1744L1228 1748.9L1234.5 1753.6L1241.2 1758.2L1247.9 1762.8L1254.8 1767.4L1261.8 1771.9L1268.8 1776.2L1275.9 1780.5L1283.1 1784.6L1290.3 1788.5L1297.6 1792.3L1304.8 1795.8L1312.2 1799.1L1319.6 1802.2L1327 1805.1L1334.4 1807.8L1341.8 1810.3L1349.1 1812.6L1356.3 1814.8L1363.3 1816.9L1370.3 1818.8L1377 1820.7L1383.7 1822.4L1390.2 1824L1396.5 1825.4L1402.7 1826.6L1408.9 1827.7L1414.9 1828.7L1421 1829.6L1427.1 1830.3L1433.3 1830.8L1440 1830L1440 1830L1434.8 1825.7L1429.2 1822.8L1423.6 1820.2L1418 1817.8L1412.4 1815.4L1406.7 1813.1L1401 1810.8L1395.1 1808.4L1389.1 1805.9L1383 1803.3L1376.6 1800.6L1369.9 1797.9L1363.2 1795.1L1356.4 1792.3L1349.5 1789.5L1342.6 1786.6L1335.7 1783.6L1328.8 1780.6L1321.9 1777.4L1315.2 1774.2L1308.4 1770.8L1301.5 1767.3L1294.6 1763.6L1287.6 1759.9L1280.6 1756L1273.5 1752.1L1266.5 1748.2L1259.4 1744.2L1252.4 1740.3L1245.5 1736.4L1238.6 1732.6L1231.8 1728.7L1225 1724.7L1218.2 1720.8L1211.4 1716.9L1204.5 1713L1197.6 1709.1L1190.5 1705.4L1183.2 1702L1175 1700ZM1495 1627L1501.9 1633.5L1509.4 1639L1517 1644.5L1524.7 1649.8L1532.5 1655.1L1540.4 1660.1L1548.3 1664.9L1556.3 1669.4L1564.3 1673.4L1572.3 1676.9L1580.1 1680L1587.5 1682.7L1594.9 1685.1L1602.2 1687.2L1609.6 1688.9L1617.1 1690.4L1624.8 1691.5L1632.8 1692.3L1641.2 1692.6L1650.1 1692.7L1659.4 1692.2L1669.1 1691.1L1679.1 1689.5L1689.2 1687.5L1699.5 1685.2L1709.8 1682.6L1720.1 1679.9L1730.3 1677.1L1740.3 1674.1L1750 1670L1750 1670L1739.5 1669.2L1728.9 1669.9L1718.4 1671L1707.8 1672.3L1697.4 1673.6L1687.2 1674.8L1677.2 1675.9L1667.7 1676.8L1658.6 1677.3L1649.9 1677.3L1641.8 1677L1634.1 1676.5L1626.8 1675.7L1619.8 1674.6L1612.9 1673.3L1606.1 1671.8L1599.3 1669.9L1592.3 1667.9L1585.1 1665.6L1577.7 1663.1L1570.1 1660.3L1562.3 1657L1554.4 1653.4L1546.3 1649.5L1538.1 1645.4L1529.8 1641.3L1521.3 1637.1L1512.8 1633.1L1504.2 1629.4L1495 1627Z" fill="#f5b5a8" opacity="0.95" filter="url(#b3)"/>
</g>
<ellipse cx="1146" cy="995.5" rx="1015" ry="864.5" fill="none" stroke="#45312b" stroke-width="5.2"/>
<path d="M445 900C443.8 878.8 442.2 861.2 443 840C443.8 818.8 446.7 792.5 450 773C453.3 753.5 456.8 736.3 463 723C469.2 709.7 476.3 702.3 487 693C497.7 683.7 511 675.8 527 667C543 658.2 562.5 649.5 583 640C603.5 630.5 628 620.3 650 610C672 599.7 692.8 591.3 715 578C737.2 564.7 763.3 541.3 783 530C802.7 518.7 813.5 514.2 833 510C852.5 505.8 877.7 504.7 900 505C922.3 505.3 939.2 509.5 967 512C994.8 514.5 1030.8 519 1067 520C1103.2 521 1145.2 520.5 1184 518C1222.8 515.5 1264 508 1300 505C1336 502 1372.2 500.3 1400 500C1427.8 499.7 1444.8 499.7 1467 503C1489.2 506.3 1510.8 512.2 1533 520C1555.2 527.8 1582.2 539.5 1600 550C1617.8 560.5 1627.8 570.2 1640 583C1652.2 595.8 1661.8 610.3 1673 627C1684.2 643.7 1697 666.3 1707 683C1717 699.7 1724.2 712 1733 727C1741.8 742 1751 757 1760 773C1769 789 1779.8 806.3 1787 823C1794.2 839.7 1798.3 856.3 1803 873C1807.7 889.7 1811.8 908 1815 923C1818.2 938 1821.3 950.2 1822 963C1822.7 975.8 1821.2 985.5 1819 1000C1816.8 1014.5 1813.5 1033.8 1809 1050C1804.5 1066.2 1797.7 1082.5 1792 1097C1786.3 1111.5 1779.8 1125.3 1775 1137C1770.2 1148.7 1766.7 1156.5 1763 1167C1759.3 1177.5 1756.3 1189 1753 1200C1749.7 1211 1746.8 1221.8 1743 1233C1739.2 1244.2 1735.5 1255.3 1730 1267C1724.5 1278.7 1717.8 1290.3 1710 1303C1702.2 1315.7 1693 1330.7 1683 1343C1673 1355.3 1662.2 1367 1650 1377C1637.8 1387 1622.8 1395.3 1610 1403C1597.2 1410.7 1595.5 1411 1573 1423C1550.5 1435 1506.5 1460 1475 1475C1443.5 1490 1413.2 1503.3 1384 1513C1354.8 1522.7 1330.7 1527.2 1300 1533C1269.3 1538.8 1233.3 1544.7 1200 1548C1166.7 1551.3 1133.3 1553.8 1100 1553C1066.7 1552.2 1025 1546.5 1000 1543C975 1539.5 963.8 1535.8 950 1532C936.2 1528.2 928.2 1524.2 917 1520C905.8 1515.8 894.2 1512 883 1507C871.8 1502 861 1496.2 850 1490C839 1483.8 826.5 1476.2 817 1470C807.5 1463.8 800.3 1458.5 793 1453C785.7 1447.5 781.8 1442.5 773 1437C764.2 1431.5 752.2 1425.3 740 1420C727.8 1414.7 715 1409.5 700 1405C685 1400.5 667.8 1397.7 650 1393C632.2 1388.3 608 1382.5 593 1377C578 1371.5 570.5 1367.3 560 1360C549.5 1352.7 538.8 1343 530 1333C521.2 1323 513.7 1312.2 507 1300C500.3 1287.8 494.8 1273.8 490 1260C485.2 1246.2 481.3 1232.5 478 1217C474.7 1201.5 472.5 1186.5 470 1167C467.5 1147.5 465.2 1122.3 463 1100C460.8 1077.7 459.2 1055.2 457 1033C454.8 1010.8 452 989.2 450 967C448 944.8 446.2 921.2 445 900Z" fill="#fdd5cf"/>
<g clip-path="url(#csub)"><g filter="url(#b1)" fill="none" stroke="#f4a9a9" stroke-linecap="round" opacity="0.8">
<path d="M775 552C800 548 820.8 542.5 850 540C879.2 537.5 916.7 536.2 950 537C983.3 537.8 1012.3 540.3 1050 545C1087.7 549.7 1134.3 556.7 1176 565C1217.7 573.3 1258.7 585 1300 595" stroke-width="30"/>
<path d="M700 685C733.3 671.7 766.7 655.8 800 645C833.3 634.2 866.7 625 900 620C933.3 615 966.7 614.2 1000 615C1033.3 615.8 1070.7 620.8 1100 625C1129.3 629.2 1146.8 632.8 1176 640C1205.2 647.2 1237.7 665.2 1275 668C1312.3 670.8 1362.5 657.5 1400 657C1437.5 656.5 1475 658.7 1500 665C1525 671.3 1533.3 685 1550 695" stroke-width="26"/>
<path d="M500 752C533.3 724 566.7 691.3 600 668C633.3 644.7 666.7 630.7 700 612" stroke-width="26"/>
<path d="M1625 790C1635 813.3 1647.2 836.7 1655 860C1662.8 883.3 1669.8 906.7 1672 930C1674.2 953.3 1673.3 975 1668 1000C1662.7 1025 1650.5 1051.7 1640 1080C1629.5 1108.3 1614.7 1140 1605 1170C1595.3 1200 1589.5 1233.3 1582 1260C1574.5 1286.7 1570.3 1306.7 1560 1330C1549.7 1353.3 1533.3 1376.7 1520 1400" stroke-width="24"/>
<path d="M1700 800C1709.3 826.7 1722.7 855 1728 880C1733.3 905 1735 925 1732 950C1729 975 1719.5 1001.7 1710 1030C1700.5 1058.3 1686.7 1088.3 1675 1120C1663.3 1151.7 1651.7 1186.7 1640 1220" stroke-width="22"/>
<path d="M1762 860C1767.3 883.3 1777 905 1778 930C1779 955 1773 983.3 1768 1010C1763 1036.7 1754.7 1063.3 1748 1090" stroke-width="18"/>
<path d="M975 1362C1025 1356.7 1075 1347.7 1125 1346C1175 1344.3 1233.3 1348.3 1275 1352C1316.7 1355.7 1350 1360 1375 1368C1400 1376 1408.3 1389.3 1425 1400" stroke-width="30"/>
<path d="M480 775C486.7 816.7 493.3 854.2 500 900C506.7 945.8 515 1008.3 520 1050C525 1091.7 525 1120.8 530 1150C535 1179.2 538.3 1200 550 1225C561.7 1250 579.2 1277.5 600 1300C620.8 1322.5 650 1340 675 1360" stroke-width="24"/>
<path d="M590 815C593.3 860 594.2 905 600 950C605.8 995 616.7 1040 625 1085" stroke-width="22"/>
<path d="M667 1260C711.3 1259.3 761.2 1253.8 800 1258C838.8 1262.2 872.2 1273.8 900 1285C927.8 1296.2 939.2 1314.2 967 1325C994.8 1335.8 1033.7 1341.7 1067 1350" stroke-width="24"/>
<path d="M783 1383C811 1392 842 1401 867 1410C892 1419 910.8 1428.2 933 1437C955.2 1445.8 972.2 1456.3 1000 1463C1027.8 1469.7 1066.7 1477 1100 1477C1133.3 1477 1163.8 1467.5 1200 1463C1236.2 1458.5 1278 1454.3 1317 1450" stroke-width="24"/>
<path d="M1500 1385C1525 1376.7 1550 1368.3 1575 1360" stroke-width="18"/>
</g></g>
<path d="M445 900C443.8 878.8 442.2 861.2 443 840C443.8 818.8 446.7 792.5 450 773C453.3 753.5 456.8 736.3 463 723C469.2 709.7 476.3 702.3 487 693C497.7 683.7 511 675.8 527 667C543 658.2 562.5 649.5 583 640C603.5 630.5 628 620.3 650 610C672 599.7 692.8 591.3 715 578C737.2 564.7 763.3 541.3 783 530C802.7 518.7 813.5 514.2 833 510C852.5 505.8 877.7 504.7 900 505C922.3 505.3 939.2 509.5 967 512C994.8 514.5 1030.8 519 1067 520C1103.2 521 1145.2 520.5 1184 518C1222.8 515.5 1264 508 1300 505C1336 502 1372.2 500.3 1400 500C1427.8 499.7 1444.8 499.7 1467 503C1489.2 506.3 1510.8 512.2 1533 520C1555.2 527.8 1582.2 539.5 1600 550C1617.8 560.5 1627.8 570.2 1640 583C1652.2 595.8 1661.8 610.3 1673 627C1684.2 643.7 1697 666.3 1707 683C1717 699.7 1724.2 712 1733 727C1741.8 742 1751 757 1760 773C1769 789 1779.8 806.3 1787 823C1794.2 839.7 1798.3 856.3 1803 873C1807.7 889.7 1811.8 908 1815 923C1818.2 938 1821.3 950.2 1822 963C1822.7 975.8 1821.2 985.5 1819 1000C1816.8 1014.5 1813.5 1033.8 1809 1050C1804.5 1066.2 1797.7 1082.5 1792 1097C1786.3 1111.5 1779.8 1125.3 1775 1137C1770.2 1148.7 1766.7 1156.5 1763 1167C1759.3 1177.5 1756.3 1189 1753 1200C1749.7 1211 1746.8 1221.8 1743 1233C1739.2 1244.2 1735.5 1255.3 1730 1267C1724.5 1278.7 1717.8 1290.3 1710 1303C1702.2 1315.7 1693 1330.7 1683 1343C1673 1355.3 1662.2 1367 1650 1377C1637.8 1387 1622.8 1395.3 1610 1403C1597.2 1410.7 1595.5 1411 1573 1423C1550.5 1435 1506.5 1460 1475 1475C1443.5 1490 1413.2 1503.3 1384 1513C1354.8 1522.7 1330.7 1527.2 1300 1533C1269.3 1538.8 1233.3 1544.7 1200 1548C1166.7 1551.3 1133.3 1553.8 1100 1553C1066.7 1552.2 1025 1546.5 1000 1543C975 1539.5 963.8 1535.8 950 1532C936.2 1528.2 928.2 1524.2 917 1520C905.8 1515.8 894.2 1512 883 1507C871.8 1502 861 1496.2 850 1490C839 1483.8 826.5 1476.2 817 1470C807.5 1463.8 800.3 1458.5 793 1453C785.7 1447.5 781.8 1442.5 773 1437C764.2 1431.5 752.2 1425.3 740 1420C727.8 1414.7 715 1409.5 700 1405C685 1400.5 667.8 1397.7 650 1393C632.2 1388.3 608 1382.5 593 1377C578 1371.5 570.5 1367.3 560 1360C549.5 1352.7 538.8 1343 530 1333C521.2 1323 513.7 1312.2 507 1300C500.3 1287.8 494.8 1273.8 490 1260C485.2 1246.2 481.3 1232.5 478 1217C474.7 1201.5 472.5 1186.5 470 1167C467.5 1147.5 465.2 1122.3 463 1100C460.8 1077.7 459.2 1055.2 457 1033C454.8 1010.8 452 989.2 450 967C448 944.8 446.2 921.2 445 900Z" fill="none" stroke="#2b2025" stroke-width="7.6" stroke-linejoin="round"/>
<path d="M703 963C700.5 950.2 697.3 934 693 923C688.7 912 683 905.8 677 897C671 888.2 662.3 879.5 657 870C651.7 860.5 647.7 849.8 645 840C642.3 830.2 640.5 819.5 641 811C641.5 802.5 643.8 794.8 648 789C652.2 783.2 658.2 779 666 776C673.8 773 683.8 771.2 695 771C706.2 770.8 718.3 772.3 733 775C747.7 777.7 766.3 783.8 783 787C799.7 790.2 816.3 793.2 833 794C849.7 794.8 866.3 794.3 883 792C899.7 789.7 919 784.8 933 780C947 775.2 957.2 769.5 967 763C976.8 756.5 983.7 748.3 992 741C1000.3 733.7 1008.5 724 1017 719C1025.5 714 1034.2 711 1043 711C1051.8 711 1060.8 714.5 1070 719C1079.2 723.5 1087.5 732.8 1098 738C1108.5 743.2 1116 746.8 1133 750C1150 753.2 1177.7 756.7 1200 757C1222.3 757.3 1247.5 754.5 1267 752C1286.5 749.5 1303.2 745.7 1317 742C1330.8 738.3 1339 733.7 1350 730C1361 726.3 1373 722.2 1383 720C1393 717.8 1400.5 716.5 1410 717C1419.5 717.5 1431.2 719.5 1440 723C1448.8 726.5 1456.3 732.3 1463 738C1469.7 743.7 1475 750 1480 757C1485 764 1488.5 772.3 1493 780C1497.5 787.7 1502 795.2 1507 803C1512 810.8 1517 820 1523 827C1529 834 1535.7 839 1543 845C1550.3 851 1560.3 856.7 1567 863C1573.7 869.3 1579.2 875.7 1583 883C1586.8 890.3 1589.2 898.7 1590 907C1590.8 915.3 1590.5 923.7 1588 933C1585.5 942.3 1582.5 953 1575 963C1567.5 973 1552.7 981.8 1543 993C1533.3 1004.2 1524.7 1018.8 1517 1030C1509.3 1041.2 1502 1050.5 1497 1060C1492 1069.5 1489 1078.2 1487 1087C1485 1095.8 1484.8 1103 1485 1113C1485.2 1123 1487.5 1135.8 1488 1147C1488.5 1158.2 1488.8 1170 1488 1180C1487.2 1190 1485.2 1199.5 1483 1207C1480.8 1214.5 1478.8 1220.3 1475 1225C1471.2 1229.7 1466.3 1232.7 1460 1235C1453.7 1237.3 1445.3 1238.7 1437 1239C1428.7 1239.3 1419 1238.5 1410 1237C1401 1235.5 1393 1233.2 1383 1230C1373 1226.8 1361 1221.8 1350 1218C1339 1214.2 1328.2 1210.3 1317 1207C1305.8 1203.7 1294.2 1200.3 1283 1198C1271.8 1195.7 1261.7 1194 1250 1193C1238.3 1192 1225.2 1191.7 1213 1192C1200.8 1192.3 1189.2 1193.2 1177 1195C1164.8 1196.8 1151.7 1200 1140 1203C1128.3 1206 1117.5 1208.5 1107 1213C1096.5 1217.5 1086 1224.2 1077 1230C1068 1235.8 1059.7 1242.2 1053 1248C1046.3 1253.8 1042.5 1260 1037 1265C1031.5 1270 1026.2 1274.8 1020 1278C1013.8 1281.2 1006.7 1283.3 1000 1284C993.3 1284.7 986.2 1284.3 980 1282C973.8 1279.7 968 1275.3 963 1270C958 1264.7 953.8 1257.2 950 1250C946.2 1242.8 943.3 1235.3 940 1227C936.7 1218.7 933.8 1208.3 930 1200C926.2 1191.7 922 1184.8 917 1177C912 1169.2 906.2 1160.5 900 1153C893.8 1145.5 887.2 1137.8 880 1132C872.8 1126.2 864.8 1121.2 857 1118C849.2 1114.8 841.3 1113.5 833 1113C824.7 1112.5 816.3 1113.8 807 1115C797.7 1116.2 787 1118.5 777 1120C767 1121.5 756 1123.7 747 1124C738 1124.3 729.7 1124.3 723 1122C716.3 1119.7 711.2 1114.8 707 1110C702.8 1105.2 699.5 1099.2 698 1093C696.5 1086.8 696.8 1081.8 698 1073C699.2 1064.2 703.3 1052.2 705 1040C706.7 1027.8 708.3 1012.8 708 1000C707.7 987.2 705.5 975.8 703 963Z" fill="#fbc7dd" stroke="#2b2025" stroke-width="8.5" stroke-linejoin="round"/>
<path d="M699 830C705 831.3 705.7 832.5 717 834C728.3 835.5 747.7 837.8 767 839C786.3 840.2 810.8 841.5 833 841C855.2 840.5 877.7 840 900 836C922.3 832 948.7 823.5 967 817C985.3 810.5 999 803.7 1010 797C1021 790.3 1026.3 782.3 1033 777C1039.7 771.7 1045 767 1050 765C1055 763 1057.5 763.3 1063 765C1068.5 766.7 1071.3 770 1083 775C1094.7 780 1116.2 789.5 1133 795C1149.8 800.5 1167.3 804.2 1184 808C1200.7 811.8 1216.5 816 1233 818C1249.5 820 1266.3 821 1283 820C1299.7 819 1319 815.3 1333 812C1347 808.7 1357.5 804.2 1367 800C1376.5 795.8 1383.3 790.3 1390 787C1396.7 783.7 1402.3 780.7 1407 780C1411.7 779.3 1415 779.7 1418 783C1421 786.3 1423 792.7 1425 800C1427 807.3 1428 818.2 1430 827C1432 835.8 1433.7 844.2 1437 853C1440.3 861.8 1444.5 871.7 1450 880C1455.5 888.3 1462.8 896.8 1470 903C1477.2 909.2 1484.7 913.2 1493 917C1501.3 920.8 1511 923 1520 926C1513.3 929.7 1506.7 932.5 1500 937C1493.3 941.5 1486.7 945.8 1480 953C1473.3 960.2 1465.5 971 1460 980C1454.5 989 1450.8 997 1447 1007C1443.2 1017 1439.5 1029 1437 1040C1434.5 1051 1433.2 1061.8 1432 1073C1430.8 1084.2 1430 1095.8 1430 1107C1430 1118.2 1431.5 1131.2 1432 1140C1432.5 1148.8 1433.3 1155.3 1433 1160C1432.7 1164.7 1431 1165.3 1430 1168C1425.7 1167.7 1423.2 1168.8 1417 1167C1410.8 1165.2 1402.5 1160.7 1393 1157C1383.5 1153.3 1372.7 1148.3 1360 1145C1347.3 1141.7 1332.5 1139.2 1317 1137C1301.5 1134.8 1283.7 1133.3 1267 1132C1250.3 1130.7 1233.7 1129 1217 1129C1200.3 1129 1181 1130.5 1167 1132C1153 1133.5 1144.2 1135 1133 1138C1121.8 1141 1113.8 1144.2 1100 1150C1086.2 1155.8 1062.8 1166.3 1050 1173C1037.2 1179.7 1030.2 1186.5 1023 1190C1015.8 1193.5 1012.3 1192.7 1007 1194C1002.3 1191 998.7 1190.2 993 1185C987.3 1179.8 980.7 1171.7 973 1163C965.3 1154.3 955.8 1142.3 947 1133C938.2 1123.7 929 1115.3 920 1107C911 1098.7 901.8 1090 893 1083C884.2 1076 875.3 1070 867 1065C858.7 1060 851.3 1055.2 843 1053C834.7 1050.8 825.8 1051.8 817 1052C808.2 1052.2 798.3 1052.3 790 1054C781.7 1055.7 772.8 1060.5 767 1062C761.2 1063.5 759 1062.7 755 1063C752.3 1059.7 748.3 1058 747 1053C745.7 1048 746.8 1044.7 747 1033C747.2 1021.3 748.3 999.7 748 983C747.7 966.3 745.8 946.8 745 933C744.2 919.2 745.3 910.5 743 900C740.7 889.5 736.3 878.7 731 870C725.7 861.3 716.7 853.8 711 848C705.3 842.2 699 838 697 835C695 832 698.3 831.7 699 830Z" fill="#fff" stroke="#45312b" stroke-width="7" stroke-linejoin="round"/>
<g stroke="#0b0b0b" stroke-width="4.4" fill="none">
<path d="M1488 868L2110 357"/>
<path d="M1673 955L2225 660"/>
<path d="M1985 1000L2305 947.5"/>
<path d="M2152 1195L2305 1195"/>
</g>
<path d="M955 1477C800 1520 670 1750 706 2026" fill="none" stroke="#0c0c10" stroke-width="14"/>
<path d="M654 1967L707 2026L739 1957" fill="none" stroke="#0c0c10" stroke-width="14" stroke-linejoin="miter"/>
<path d="M1465 1475C1465 1241.9 1376.1 1053 1211 1053C1045.9 1053 957 1241.9 957 1475C957 1708.1 1070.7 1897 1211 1897C1351.3 1897 1465 1708.1 1465 1475Z" fill="none" stroke="#af5cab" stroke-width="14.5"/>
<ellipse cx="1211" cy="1343" rx="206" ry="254" fill="none" stroke="#2881b9" stroke-width="16"/>
<circle cx="1207.5" cy="1206" r="92.5" fill="none" stroke="#c1281f" stroke-width="13"/>
<g stroke="#0c0c10" stroke-width="13" fill="none">
<path d="M1285 1250L2242 1464"/>
<path d="M1365 1520L2066 1674"/>
<path d="M1392 1777L1700 1902"/>
</g>
<g font-family="'Liberation Sans','Noto Sans Telugu',sans-serif" font-size="43.6" font-weight="500" fill="#111">
<text x="2132" y="358">ముకోసా</text>
<text x="2248" y="660">సబ్‌ముకోసా</text>
<text x="2335" y="958">మస్కులారిస్ ప్రొపియా</text>
<text x="2317" y="1206" textLength="240" lengthAdjust="spacingAndGlyphs">అడ్వెంటీషియా</text>
</g>
<g font-family="'Liberation Sans','Noto Sans Telugu',sans-serif" font-size="75" font-weight="bold">
<text x="2274.3" y="1495" fill="#c1281f"><tspan textLength="56" lengthAdjust="spacingAndGlyphs">టి</tspan><tspan font-size="76" dx="1.5" textLength="43.5" lengthAdjust="spacingAndGlyphs">1</tspan></text>
<text x="2096" y="1717" fill="#2881b9"><tspan textLength="56" lengthAdjust="spacingAndGlyphs">టి</tspan><tspan font-size="76" dx="1.5" textLength="43.5" lengthAdjust="spacingAndGlyphs">2</tspan></text>
<text x="1708" y="1951" fill="#af5cab"><tspan textLength="56" lengthAdjust="spacingAndGlyphs">టి</tspan><tspan font-size="76" dx="1.5" textLength="43.5" lengthAdjust="spacingAndGlyphs">3</tspan></text>
<text x="755.3" y="2040" fill="#1a1718"><tspan textLength="56" lengthAdjust="spacingAndGlyphs">టి</tspan><tspan font-size="76" textLength="39.5" lengthAdjust="spacingAndGlyphs">4</tspan><tspan textLength="47" lengthAdjust="spacingAndGlyphs">ఎ</tspan></text>
</g>
</svg>
</body></html>
